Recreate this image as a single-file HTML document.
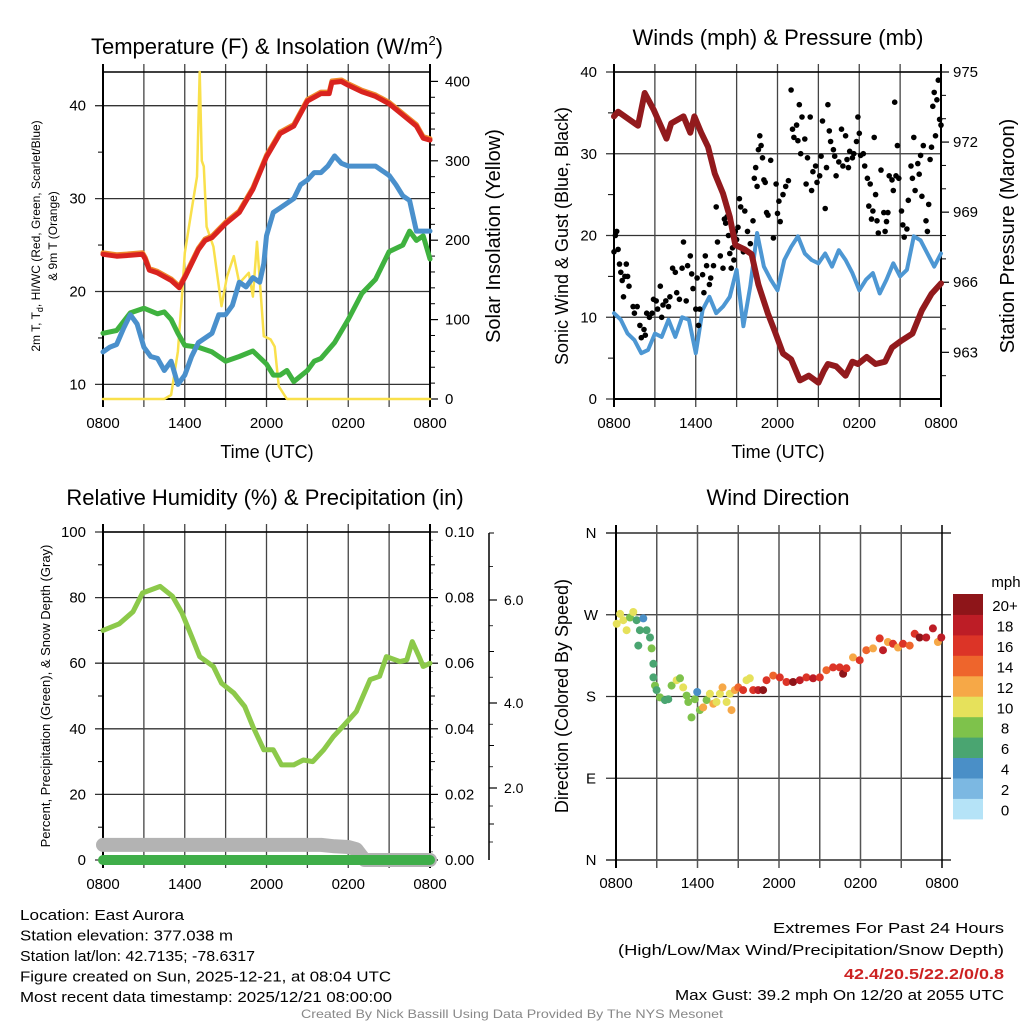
<!DOCTYPE html>
<html><head><meta charset="utf-8"><style>
html,body{margin:0;padding:0;background:#fff}
svg{display:block;font-family:"Liberation Sans",sans-serif}
</style></head><body>
<svg id="fig" width="1024" height="1024" viewBox="0 0 1024 1024" xmlns="http://www.w3.org/2000/svg"></svg>
<script>
// ---------- DATA ----------
const tempT = [0,1,2,2.9,3.1,3.4,4,5,5.6,6,7,7.5,8,9,10,11,12,13,14,15,16,16.6,16.8,17.5,18,19,20,21,22,23,23.5,24];
const tempV = [24,23.8,23.9,24,23.5,22.3,22,21.2,20.4,21.5,24.5,25.5,25.8,27.3,28.5,31,34.5,37,37.8,40.5,41.3,41.3,42.5,42.6,42.2,41.5,41,40.2,39,37.8,36.5,36.3];
const wcT = [0,0.5,1,1.5,2,2.5,3,3.5,4,4.5,5,5.5,6,6.5,7,7.5,8,8.5,9,9.5,10,10.5,11,11.5,11.8,12,12.5,13,14,14.5,15,15.5,16,16.5,17,17.5,18,19,20,21,21.5,22,22.5,23,24];
const wcV = [13.5,14,14.3,16,17.5,16.5,14,13,12.8,11.5,12.5,10,11,13,14.5,15,15.5,17.5,17.5,18.5,21,20.5,21.5,21,23,26,28.5,29,30,31.5,32,32.8,32.8,33.5,34.6,33.8,33.5,33.5,33.5,32.5,31.5,30.3,29.8,26.5,26.5];
const tdT = [0,1,2,3,4,4.5,5,5.5,6,7,8,9,10,11,12,12.5,13,13.5,14,15,15.5,16,17,18,19,20,21,22,22.5,23,23.5,24];
const tdV = [15.5,15.8,17.7,18.2,17.6,17.8,17,15.5,14.2,14,13.5,12.5,13,13.6,12.2,11,11,11.5,10.3,11.5,12.5,12.8,14.5,17,19.8,21.3,24.3,25,26.5,25.5,26,23.5];
const solT = [0,4.5,5,5.5,5.8,6,6.5,6.9,7.1,7.25,7.4,7.6,8.1,8.7,9.1,9.6,10,10.7,11,11.3,11.8,12.3,12.6,12.9,13.5,24];
const solV = [0,0,5,60,130,184,238,280,412,300,293,217,192,117,154,180,146,159,129,198,79,75,66,16,0,0];
const tempTicks = [10,20,30,40];
const solTicks = [0,100,200,300,400];
const presT = [0,0.3,1.76,2.25,2.9,3.85,4.2,5.1,5.6,5.9,6.4,6.9,7.4,8,8.5,8.9,9.6,10.1,10.6,11.3,11.8,12.4,13,13.65,14.3,15,15.4,15.7,16.3,17,17.5,17.9,18.55,19.2,19.9,20.4,21.1,21.9,22.6,23.3,24];
const presV = [973.1,973.3,972.7,974.1,973.4,972.15,972.8,973.1,972.4,973.1,972.4,971.8,970.65,969.8,968.8,967.6,967.4,967.2,965.9,964.65,963.9,962.95,962.7,961.8,962,961.7,962.2,962.5,962.4,962,962.6,962.5,962.8,962.5,962.6,963.2,963.5,963.8,964.8,965.5,965.95];
const windT = [0,0.5,1,1.5,2,2.5,3,3.5,4,4.5,5,5.5,6,6.5,7,7.5,8,8.5,9,9.5,10,10.5,11,11.5,12,12.5,13,13.5,14,14.5,15,15.5,16,16.5,17,17.5,18,18.5,19,19.5,20,20.5,21,21.5,22,22.5,23,23.5,24];
const windV = [10.5,9.7,8,7.2,5.6,6,8,7.6,9.7,7.6,10,9.7,5.6,10.9,12.5,10.5,11.3,12.5,15.8,8.9,13.8,20.3,16.2,14.6,13.3,17,18.6,19.9,17.8,17,16.6,17.8,16.2,18.2,17,15.4,13.3,14.6,15.4,12.9,14.6,16.6,15,15.8,19.9,19.4,17.8,16.2,17.8];
const gustT = [0,0.1,0.2,0.3,0.4,0.5,0.6,0.7,0.8,0.9,1,1.1,1.4,1.5,1.7,1.9,2,2.2,2.3,2.4,2.6,2.8,2.9,3.1,3.2,3.4,3.5,3.6,3.8,4,4.1,4.3,4.5,4.6,4.8,5,5.1,5.3,5.4,5.6,5.7,5.8,6,6.1,6.2,6.3,6.5,6.6,6.7,6.8,7,7.1,7.3,7.5,7.6,7.8,8,8.1,8.2,8.3,8.4,8.5,8.6,8.7,8.8,8.9,9,9.1,9.2,9.3,9.5,9.6,9.8,10,10.2,10.3,10.4,10.5,10.6,10.7,10.8,10.9,11,11.1,11.2,11.3,11.5,11.7,11.9,12,12.1,12.2,12.4,12.6,12.8,13,13.1,13.2,13.4,13.5,13.6,13.7,13.8,14,14.1,14.2,14.4,14.5,14.6,14.8,14.9,15.1,15.2,15.3,15.5,15.6,15.7,15.8,15.9,16.1,16.2,16.3,16.5,16.7,16.8,17,17.1,17.2,17.3,17.5,17.6,17.8,17.9,18,18.1,18.3,18.4,18.6,18.7,18.8,18.9,19,19.1,19.2,19.3,19.4,19.6,19.8,19.9,20,20.1,20.2,20.4,20.5,20.6,20.7,20.8,20.9,21.1,21.2,21.3,21.5,21.6,21.8,21.9,22,22.1,22.3,22.4,22.5,22.6,22.7,22.9,23,23.1,23.2,23.3,23.4,23.5,23.6,23.7,23.8,23.9,24];
const gustV = [18,20,20.5,18.3,16.5,15.5,14.5,12.5,15,16.5,15,13.8,11.3,10.5,11.3,9,7.5,8.5,7.8,10.5,10,10.5,12.2,12,11,13.8,10,11.5,12,11.3,12.5,16,15.5,13,12.2,16,19.2,12,16.3,17.5,15.3,13.5,11,14.8,9,11,15.2,13,17.5,16.3,14,14.8,16.3,23.5,19.2,17.5,16,22,21.5,22.3,20,17.8,16,18.5,17,20.5,19.5,21,24.5,23.5,18,23,20.5,19,21.8,27,28.3,26,30.5,32.2,31,29.5,26.8,26.5,22.8,22.5,29.2,19.7,26.3,22.7,24.2,21.7,25,26,26.7,37.8,33,32,33.5,31.6,36,30,34.5,31.8,26.3,29.5,34.5,25.5,27.8,28.5,26.5,27.3,29.7,34,23.3,28.3,36,32.8,31.5,30.5,29.7,27.3,29,33,28.5,32.2,29.3,28.3,30.3,29.5,30,31.5,34.5,32.5,29.8,30,28.5,27,23.6,26.3,22,23,32,25,21.8,20.3,28,22.8,20.5,21.7,22.8,27.3,26.8,25.5,36.3,27.3,31,27,23,21.3,19.8,20.8,24.3,28.5,27,32,25.5,28.8,27.5,29.8,24.8,31,21.8,20.5,23.8,29.3,30.8,35.8,37.5,32.2,36.6,39,34.2,33.5];
const windTicks = [0,10,20,30,40];
const presTicks = [963,966,969,972,975];
const rhT = [0,1.2,2.2,2.9,4.2,5.1,5.8,6.5,7.1,8.1,8.7,9.6,10.4,11,11.8,12.5,13.1,14,14.7,15.4,16.2,16.9,17.6,18.6,19.6,20.3,20.8,21.8,22.3,22.7,23.2,23.5,24];
const rhV = [70,72,75.7,81.4,83.4,80.4,75.3,68.2,62,59,53.9,50.9,46.8,40.7,33.6,33.6,29,29,30.5,30,33.6,37.6,40.7,45.3,55,56,62,60.5,61,66.6,62,59,60];
const precipT = [0,24];
const precipV = [0,0];
const snowT = [0,16,17,18,18.6,19.2,24];
const snowV = [0.42,0.42,0.38,0.36,0.3,0.0,0.0];
const rhTicks = [0,20,40,60,80,100];
const prTicks = ["0.00","0.02","0.04","0.06","0.08","0.10"];
const snowTicks = [2,4,6];
const dirT = [0.05,0.3,0.54,0.78,1.03,1.27,1.52,1.76,2.01,2.25,2.5,1.64,2.62,2.75,2.75,2.87,2.99,3.24,3.6,3.85,4.09,4.46,4.71,4.95,5.2,5.32,5.56,5.81,5.98,6.18,6.42,6.67,6.91,7.16,7.4,7.65,7.84,8.14,8.38,8.5,8.75,9.0,9.36,9.61,9.85,10.1,10.47,10.83,11.08,11.57,12.06,12.55,13.04,13.53,14.02,14.51,15.0,15.49,15.98,16.47,16.72,16.96,17.45,17.94,18.43,18.92,19.41,19.66,20.02,20.39,20.76,21.13,21.62,21.99,22.35,22.84,23.33,23.7,23.95];
const dirV = [260,271,264,253,267,273,264,253,266,253,245,236,233,216,201,192,187,179,176,177,192,198,200,190,181,174,157,177,185,165,168,176,183,172,174,183,190,174,183,165,187,190,187,198,200,187,187,187,198,203,201,196,196,198,201,200,201,209,212,212,205,211,223,220,231,233,244,231,240,238,234,238,236,249,245,245,255,240,245];
const spdV = [10,10,11,10,8,10,7,6,4,6,6,6,8,6,6,8,7,8,6,7,8,10,8,10,8,9,8,8,4,9,12,8,10,12,11,10,12,10,11,13,13,15,16,10,10,16,18,20,16,14,16,17,20,18,17,19,16,15,16,17,20,16,12,16,14,12,17,18,12,16,13,16,14,17,20,18,18,13,18];
const dirTicks = ["N","E","S","W","N"];
const barLabels = ["0","2","4","6","8","10","12","14","16","18","20+"];
const barColors = ["#b5e3f7","#7cb8e2","#4a8fc7","#4aa571","#7ec24b","#e6e15b","#f6a847","#ee652c","#dc3427","#bd1d26","#8e1519"];
const hourLabels = ["0800","1400","2000","0200","0800"];

// ---------- HELPERS ----------
const NS="http://www.w3.org/2000/svg";
const svg=document.getElementById('fig');
function mk(tag,attrs,name,parent){
  const el=document.createElementNS(NS,tag);
  for(const k in attrs) el.setAttribute(k,attrs[k]);
  
  
  (parent||svg).appendChild(el);return el;
}
function ln(x1,y1,x2,y2,c,w,name){return mk('line',{x1,y1,x2,y2,stroke:c,'stroke-width':w},name);}
function tx(x,y,s,size,anchor,name,extra){const a=Object.assign({x,y,'font-size':size,'text-anchor':anchor||'middle',fill:'#000'},extra||{});const t=mk('text',a,name);t.textContent=s;return t;}
function vtx(x,y,s,size,name){return tx(x,y,s,size,'middle',name,{transform:`rotate(-90 ${x} ${y})`});}
function path(ts,vs,X,Y,c,w,name){let d='';for(let i=0;i<ts.length;i++)d+=(i?'L':'M')+X(ts[i]).toFixed(1)+' '+Y(vs[i]).toFixed(1);return mk('path',{d,fill:'none',stroke:c,'stroke-width':w,'stroke-linejoin':'round','stroke-linecap':'round'},name);}

function frame(x0,y0,x1,y1,X,tag){
  for(let h=0;h<=24;h+=3){const x=X(h);ln(x,y0-8,x,y1+8,h%24===0?'#000':'#444',h%24===0?2:1.3,tag+'-x-grid');}
  ln(x0,y1,x1,y1,'#000',2,tag+'-x-axis');
  ln(x0,y0,x1,y0,'#000',1.5,tag+'-top-spine');
  for(let i=0;i<5;i++)tx(X(i*6),y1+29,hourLabels[i],15,'middle',tag+'-x-tick-label');
}
function x0fn(a,b){return t=>a+(b-a)*t/24;}

// ---------- PANEL 1 ----------
{const X=x0fn(103,430),Y=v=>105.7+(40-v)*9.29,S=w=>399-w*0.794;
 const title=tx(267,54,'',22,'middle','temp-title');
 const s1=mk('tspan',{},'temp-title-main',title);s1.textContent='Temperature (F) & Insolation (W/m';
 const s2=mk('tspan',{dy:-9,'font-size':13},'temp-title-superscript',title);s2.textContent='2';
 const s3=mk('tspan',{dy:9},'temp-title-paren',title);s3.textContent=')';
 for(const v of tempTicks){ln(95,Y(v),430,Y(v),'#333',1.3,'temp-y-grid');tx(86,Y(v)+5,String(v),15,'end','temp-y-tick-label');}
 for(const v of [15,25,35])ln(98,Y(v),103,Y(v),'#000',1,'temp-y-minor-tick');
 for(const w of solTicks){ln(430,S(w),438,S(w),'#000',1.2,'solar-y-tick');tx(445,S(w)+5,String(w),15,'start','solar-y-tick-label');}
 for(let w=20;w<410;w+=20)if(w%100)ln(430,S(w),435,S(w),'#000',1,'solar-y-minor-tick');
 frame(103,72,430,399,X,'temp');
 ln(103,72,103,399,'#000',2,'temp-y-axis');ln(430,72,430,399,'#000',2,'solar-y-axis');
 path(solT,solV,X,S,'#f9e04b',2.5,'solar-insolation-line');
 path(tdT,tdV,X,Y,'#3fb23f',5,'dewpoint-line');
 path(wcT,wcV,X,Y,'#4a90cc',5,'windchill-line');
 path(tempT,tempV,X,v=>Y(v)-1.5,'#f08a2c',5,'9m-temp-line');
 path(tempT,tempV,X,Y,'#d9231f',5,'2m-temp-line');
 tx(267,458,'Time (UTC)',18,'middle','temp-x-title');
 const yt=vtx(40,236,'',12,'temp-y-title-line1');
 const a1=mk('tspan',{},'temp-y-title-a',yt);a1.textContent='2m T, T';
 const a2=mk('tspan',{dy:3,'font-size':9},'temp-y-title-sub',yt);a2.textContent='d';
 const a3=mk('tspan',{dy:-3},'temp-y-title-b',yt);a3.textContent=', HI/WC (Red, Green, Scarlet/Blue)';
 vtx(57,236,'& 9m T (Orange)',12,'temp-y-title-line2');
 vtx(500,236,'Solar Insolation (Yellow)',20,'solar-y-title');
}
// ---------- PANEL 2 ----------
{const X=x0fn(614,941),Y=v=>399-v*8.175,P=p=>72+(975-p)*23.36;
 tx(778,45,'Winds (mph) & Pressure (mb)',22,'middle','winds-title');
 for(const v of windTicks){ln(606,Y(v),941,Y(v),'#333',1.3,'wind-y-grid');tx(597,Y(v)+5,String(v),15,'end','wind-y-tick-label');}
 for(const v of [5,15,25,35])ln(608,Y(v),614,Y(v),'#000',1,'wind-y-minor-tick');
 for(const p of presTicks){ln(941,P(p),949,P(p),'#000',1.2,'pressure-y-tick');tx(953,P(p)+5,String(p),15,'start','pressure-y-tick-label');}
 for(let p=962;p<975;p++)if((p-963)%3)ln(941,P(p),946,P(p),'#000',1,'pressure-y-minor-tick');
 frame(614,72,941,399,X,'wind');
 ln(614,72,614,399,'#000',2,'wind-y-axis');ln(941,72,941,399,'#000',2,'pressure-y-axis');
 path(windT,windV,X,Y,'#4d97d3',4,'sonic-wind-line');
 for(let i=0;i<gustT.length;i++)mk('circle',{cx:X(gustT[i]).toFixed(1),cy:Y(gustV[i]).toFixed(1),r:2.8,fill:'#000'},'gust-point');
 path(presT,presV,X,P,'#921a1d',6,'station-pressure-line');
 tx(778,458,'Time (UTC)',18,'middle','wind-x-title');
 vtx(568,236,'Sonic Wind & Gust (Blue, Black)',18,'wind-y-title');
 vtx(1014,236,'Station Pressure (Maroon)',20,'pressure-y-title');
}
// ---------- PANEL 3 ----------
{const X=x0fn(103,430),Y=v=>860-v*3.28,R=v=>860-v*3280;
 const snowPos=[[0,860],[2,788],[4,703],[6,600],[7,533]];
 const SN=v=>{for(let i=1;i<snowPos.length;i++){const a=snowPos[i-1],b=snowPos[i];if(v<=b[0])return a[1]+(b[1]-a[1])*(v-a[0])/(b[0]-a[0]);}return 533;};
 tx(265,505,'Relative Humidity (%) & Precipitation (in)',22,'middle','rh-title');
 for(const v of rhTicks){ln(95,Y(v),430,Y(v),'#333',1.3,'rh-y-grid');tx(86,Y(v)+5,String(v),15,'end','rh-y-tick-label');}
 for(let v=10;v<100;v+=20)ln(98,Y(v),103,Y(v),'#000',1,'rh-y-minor-tick');
 prTicks.forEach((s,i)=>{const y=R(i*0.02);ln(430,y,438,y,'#000',1.2,'precip-y-tick');tx(445,y+5,s,15,'start','precip-y-tick-label');});
 for(let i=1;i<10;i+=2)ln(430,R(i*0.01),435,R(i*0.01),'#000',1,'precip-y-minor-tick');
 for(let i=0;i<20;i++)ln(430,R(i*0.005+0.0025),433,R(i*0.005+0.0025),'#555',0.8,'precip-y-fine-tick');
 ln(489,533,489,860,'#000',1.5,'snow-y-axis');
 for(const v of snowTicks){ln(489,SN(v),497,SN(v),'#000',1.2,'snow-y-tick');tx(504,SN(v)+5,v.toFixed(1),14,'start','snow-y-tick-label');}
 for(const v of [1,3,5,7])ln(489,SN(v),494,SN(v),'#000',1,'snow-y-minor-tick');
 for(const v of [0.5,1.5,2.5,3.5,4.5,5.5,6.5])ln(489,SN(v),493,SN(v),'#000',0.8,'snow-y-fine-tick');
 frame(103,532,430,860,X,'rh');
 ln(103,532,103,860,'#000',2,'rh-y-axis');ln(430,532,430,860,'#000',2,'precip-y-axis');
 path(snowT,snowV,X,v=>SN(v),'#b3b3b3',14,'snow-depth-line');
 path(rhT,rhV,X,Y,'#8cc94a',5,'rh-line');
 path(precipT,precipV,X,R,'#3fae49',10,'precip-line');
 vtx(50,696,'Percent, Precipitation (Green), & Snow Depth (Gray)',13,'rh-y-title');
}
// ---------- PANEL 4 ----------
{const X=x0fn(616,942),Y=d=>860-d*0.9083;
 tx(778,505,'Wind Direction',22,'middle','direction-title');
 dirTicks.forEach((s,i)=>{const y=Y(i*90);ln(606,y,951,y,i%4===0?'#000':'#333',1.3,'direction-y-grid');tx(591,y+5,s,15,'middle','direction-y-tick-label');});
 for(let h=0;h<=24;h+=3){const x=X(h);ln(x,525,x,868,h===0||h===24?'#000':'#555',h===0?2:1.5,'direction-x-grid');}
 for(let i=0;i<5;i++)tx(X(i*6),888,hourLabels[i],15,'middle','direction-x-tick-label');
 const binOf=s=>Math.min(10,Math.floor(s/2));
 for(let i=0;i<dirT.length;i++)mk('circle',{cx:X(dirT[i]).toFixed(1),cy:Y(dirV[i]).toFixed(1),r:4,fill:barColors[binOf(spdV[i])]},'direction-point');
 vtx(568,696,'Direction (Colored By Speed)',18,'direction-y-title');
 tx(1006,587,'mph',15,'middle','colorbar-title');
 for(let i=0;i<11;i++){const y=594+(10-i)*20.45;mk('rect',{x:953,y:y.toFixed(1),width:30,height:20.9,fill:barColors[i]},'colorbar-bin');tx(1005,y+17,barLabels[i],15,'middle','colorbar-label');}
}
// ---------- FOOTER ----------
const infoLines=["Location: East Aurora","Station elevation: 377.038 m","Station lat/lon: 42.7135; -78.6317","Figure created on Sun, 2025-12-21, at 08:04 UTC","Most recent data timestamp: 2025/12/21 08:00:00"];
const infoW=[164,213,235,371,372];
infoLines.forEach((s,i)=>tx(20,920+i*20.5,s,15,'start','station-info-line',{textLength:infoW[i],lengthAdjust:'spacingAndGlyphs'}));
tx(1004,933,'Extremes For Past 24 Hours',15,'end','extremes-heading',{textLength:231,lengthAdjust:'spacingAndGlyphs'});
tx(1004,955,'(High/Low/Max Wind/Precipitation/Snow Depth)',15,'end','extremes-legend',{textLength:386,lengthAdjust:'spacingAndGlyphs'});
tx(1004,979,'42.4/20.5/22.2/0/0.8',15,'end','extremes-values',{fill:'#cc2222','font-weight':'bold',textLength:160,lengthAdjust:'spacingAndGlyphs'});
tx(1004,1000,'Max Gust: 39.2 mph On 12/20 at 2055 UTC',15,'end','max-gust-text',{textLength:329,lengthAdjust:'spacingAndGlyphs'});
tx(512,1018,'Created By Nick Bassill Using Data Provided By The NYS Mesonet',12,'middle','credit-text',{fill:'#888',textLength:422,lengthAdjust:'spacingAndGlyphs'});
</script>
</body></html>
